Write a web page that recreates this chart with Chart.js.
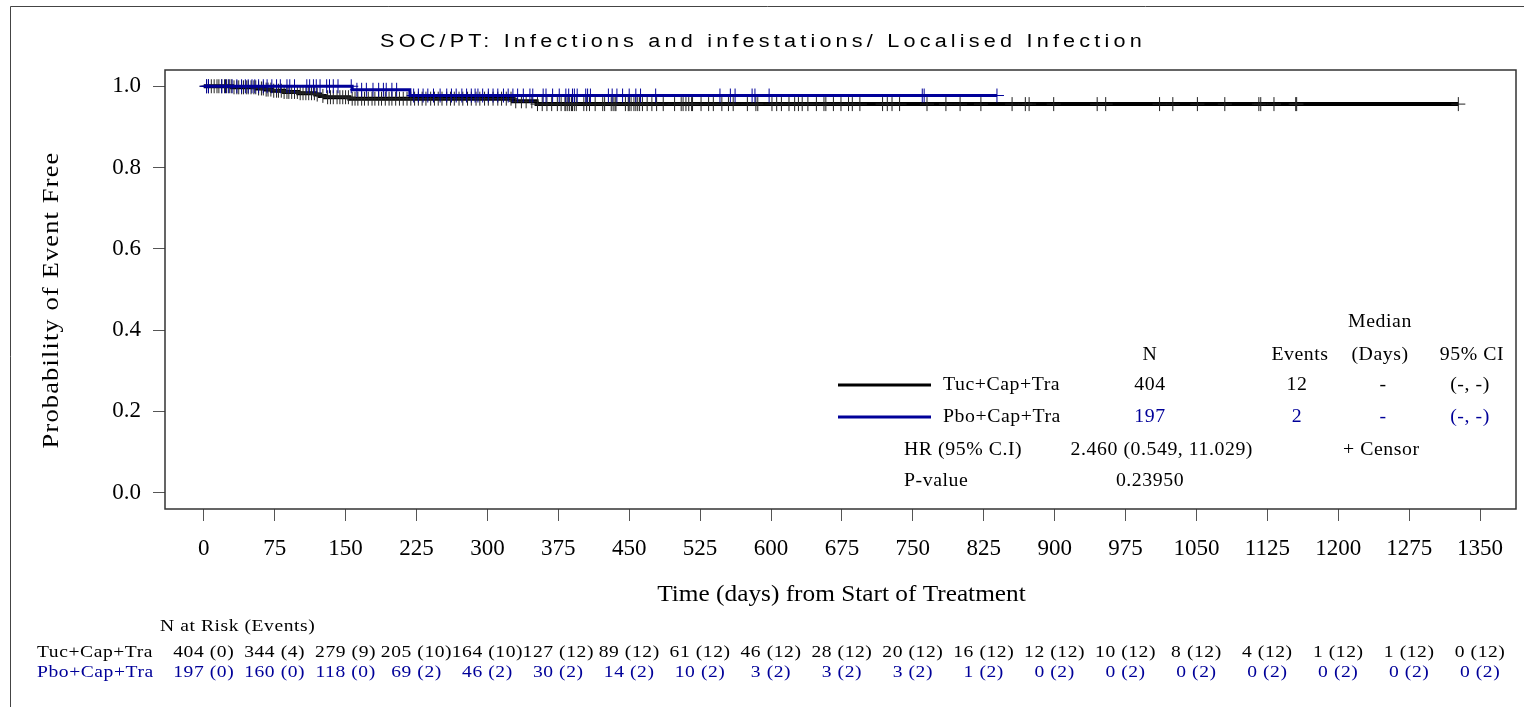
<!DOCTYPE html>
<html>
<head>
<meta charset="utf-8">
<script src="https://cdn.jsdelivr.net/npm/chart.js@4.4.0/dist/chart.umd.min.js"></script>
<style>
html, body { margin: 0; padding: 0; background: #fff; }
canvas { display: block; }
</style>
</head>
<body>
<canvas id="km" width="1524" height="707"></canvas>
<script>
// axis ticks
const xTicks = [0, 75, 150, 225, 300, 375, 450, 525, 600, 675, 750, 825, 900, 975, 1050, 1125, 1200, 1275, 1350];
const yTicks = [0, 0.2, 0.4, 0.6, 0.8, 1.0];

// Kaplan-Meier steps
const tucTimes = [0, 30, 56, 65, 72, 85, 100, 118, 123, 128, 154, 327, 352, 1327];
const tucSurv = [1, 0.9974, 0.9946, 0.9918, 0.989, 0.986, 0.9829, 0.9796, 0.9763, 0.973, 0.9695, 0.963, 0.9561, 0.9561];
const pboTimes = [0, 157, 218, 839];
const pboSurv = [1, 0.9913, 0.9772, 0.9772];

// censor marks (days)
const tucCensor = [3, 5, 8, 11, 14, 16, 19, 22, 24, 27, 29, 32, 35, 37, 40, 42, 45, 47, 50, 53, 55, 58, 61, 63, 66, 68, 71, 74, 77,
  79, 82, 85, 88, 90, 93, 96, 99, 102, 105, 108, 111, 114, 117, 120, 126, 131, 134, 137, 141, 144, 147, 150, 153, 157, 160,
  163, 167, 170, 174, 178, 181, 185, 188, 192, 196, 199, 203, 207, 211, 215, 219, 223, 227, 231, 235, 240, 244, 248, 252,
  257, 261, 265, 270, 274, 279, 283, 288, 292, 297, 301, 306, 311, 315, 320, 325, 330, 336, 341, 347, 353, 358, 363, 368,
  374, 378, 382, 383, 385, 387, 389, 390, 392, 394, 402, 405, 408, 414, 422, 424, 431, 433, 435, 436, 446, 449, 450, 452,
  455, 457, 459, 461, 464, 469, 474, 479, 486, 498, 505, 507, 510, 513, 516, 517, 526, 534, 539, 548, 555, 560, 575, 584,
  586, 601, 606, 611, 619, 625, 629, 633, 639, 648, 656, 658, 666, 674, 682, 686, 694, 718, 723, 728, 736, 765, 785, 800,
  822, 855, 869, 873, 899, 945, 954, 1011, 1025, 1051, 1080, 1116, 1118, 1132, 1155, 1156, 1327];
const pboCensor = [3, 5, 19, 23, 26, 30, 35, 40, 44, 47, 51, 54, 58, 63, 67, 72, 77, 81, 88, 91, 96, 109, 112, 116, 119, 123,
  130, 133, 137, 142, 156, 162, 167, 172, 179, 185, 190, 193, 199, 204, 222, 227, 232, 237, 243, 250, 257, 262, 267, 273,
  278, 283, 287, 290, 295, 301, 306, 311, 317, 322, 327, 332, 338, 345, 348, 359, 362, 369, 376, 383, 386, 390, 392, 395,
  404, 406, 409, 428, 432, 437, 443, 450, 457, 462, 478, 546, 557, 562, 580, 583, 598, 760, 762, 839];

// legend table
const groups = ['Tuc+Cap+Tra', 'Pbo+Cap+Tra'];
const groupN = ['404', '197'];
const groupEvents = ['12', '2'];
const groupMedian = ['-', '-'];
const groupCI = ['(-, -)', '(-, -)'];
const hrText = '2.460 (0.549, 11.029)';
const pText = '0.23950';

// number at risk (events) at each x tick
const riskTuc = ['404 (0)', '344 (4)', '279 (9)', '205 (10)', '164 (10)', '127 (12)', '89 (12)', '61 (12)', '46 (12)', '28 (12)',
  '20 (12)', '16 (12)', '12 (12)', '10 (12)', '8 (12)', '4 (12)', '1 (12)', '1 (12)', '0 (12)'];
const riskPbo = ['197 (0)', '160 (0)', '118 (0)', '69 (2)', '46 (2)', '30 (2)', '14 (2)', '10 (2)', '3 (2)', '3 (2)',
  '3 (2)', '1 (2)', '0 (2)', '0 (2)', '0 (2)', '0 (2)', '0 (2)', '0 (2)', '0 (2)'];

const BLACK = '#000000';
const BLUE = '#000099';
const SERIF = "'Liberation Serif', 'Times New Roman', serif";
const SANS = "'Liberation Sans', Arial, sans-serif";

function survAt(times, surv, t) {
    let s = surv[0];
    for (let i = 0; i < times.length; i++) {
        if (times[i] <= t) s = surv[i];
    }
    return s;
}

function stepPoints(times, surv) {
    return times.map((t, i) => ({ x: t, y: surv[i] }));
}

function censorPoints(list, times, surv) {
    return list.map(t => ({ x: t, y: survAt(times, surv, t) }));
}

// SAS output sets its text a bit wider than the font, so widen each string
function wideText(ctx, text, x, y, sx, spacing, angle) {
    ctx.save();
    ctx.translate(x, y);
    if (angle) ctx.rotate(angle);
    ctx.scale(sx, 1);
    ctx.letterSpacing = (spacing || 0) + 'px';
    ctx.fillText(text, 0, 0);
    ctx.restore();
}

const tablePlugin = {
    id: 'kmTable',
    afterDraw(chart) {
        const ctx = chart.ctx;
        const area = chart.chartArea;
        const xs = chart.scales.x;
        ctx.save();

        // outer frame
        ctx.strokeStyle = '#444';
        ctx.lineWidth = 1;
        ctx.beginPath();
        ctx.moveTo(10.5, 707);
        ctx.lineTo(10.5, 6.5);
        ctx.lineTo(1524, 6.5);
        ctx.stroke();

        // plot box
        ctx.strokeStyle = '#333';
        ctx.lineWidth = 1.5;
        ctx.strokeRect(area.left, area.top, area.right - area.left, area.bottom - area.top);

        // title
        ctx.fillStyle = '#000';
        ctx.textBaseline = 'middle';
        ctx.textAlign = 'center';
        ctx.font = '18px ' + SANS;
        wideText(ctx, 'SOC/PT: Infections and infestations/ Localised Infection', 763, 42, 1.2, 3.5);

        // axis titles
        ctx.font = '23px ' + SERIF;
        wideText(ctx, 'Time (days) from Start of Treatment', (area.left + area.right) / 2 + 1, 595, 1.1, 0);
        wideText(ctx, 'Probability of Event Free', 52, 300, 1.15, 1, -Math.PI / 2);

        // legend block
        ctx.font = '18px ' + SERIF;
        const sx = 1.1, sp = 0.5;
        wideText(ctx, 'Median', 1380, 322, sx, sp);
        wideText(ctx, 'N', 1150, 355, sx, sp);
        wideText(ctx, 'Events', 1300, 355, sx, sp);
        wideText(ctx, '(Days)', 1380, 355, sx, sp);
        wideText(ctx, '95% CI', 1472, 355, sx, sp);

        const rowY = [385, 417];
        const colors = [BLACK, BLUE];
        groups.forEach((g, i) => {
            ctx.strokeStyle = colors[i];
            ctx.lineWidth = 3;
            ctx.beginPath();
            ctx.moveTo(838, rowY[i]);
            ctx.lineTo(931, rowY[i]);
            ctx.stroke();
            ctx.fillStyle = '#000';
            ctx.textAlign = 'left';
            wideText(ctx, g, 943, rowY[i], sx, sp);
            ctx.fillStyle = colors[i];
            ctx.textAlign = 'center';
            wideText(ctx, groupN[i], 1150, rowY[i], sx, sp);
            wideText(ctx, groupEvents[i], 1297, rowY[i], sx, sp);
            wideText(ctx, groupMedian[i], 1383, rowY[i], sx, sp);
            wideText(ctx, groupCI[i], 1470, rowY[i], sx, sp);
        });

        ctx.fillStyle = '#000';
        ctx.textAlign = 'left';
        wideText(ctx, 'HR (95% C.I)', 904, 450, sx, sp);
        ctx.textAlign = 'right';
        wideText(ctx, hrText, 1253, 450, sx, sp);
        ctx.textAlign = 'left';
        wideText(ctx, '+ Censor', 1343, 450, sx, sp);
        wideText(ctx, 'P-value', 904, 481, sx, sp);
        ctx.textAlign = 'center';
        wideText(ctx, pText, 1150, 481, sx, sp);

        // number at risk table
        ctx.font = '17px ' + SERIF;
        const rx = 1.15, rs = 0.5;
        ctx.textAlign = 'left';
        wideText(ctx, 'N at Risk (Events)', 160, 627, rx, rs);
        wideText(ctx, groups[0], 37, 653, rx, rs);
        ctx.fillStyle = BLUE;
        wideText(ctx, groups[1], 37, 673, rx, rs);
        ctx.textAlign = 'center';
        xTicks.forEach((t, i) => {
            const px = xs.getPixelForValue(t);
            ctx.fillStyle = BLACK;
            wideText(ctx, riskTuc[i], px, 653, rx, rs);
            ctx.fillStyle = BLUE;
            wideText(ctx, riskPbo[i], px, 673, rx, rs);
        });
        ctx.restore();
    }
};

new Chart(document.getElementById('km'), {
    type: 'line',
    data: {
        datasets: [
            {
                label: groups[1] + ' censor',
                data: censorPoints(pboCensor, pboTimes, pboSurv),
                showLine: false,
                pointStyle: 'cross',
                pointRadius: 7,
                borderColor: BLUE,
                borderWidth: 1,
                order: 1
            },
            {
                label: groups[1],
                data: stepPoints(pboTimes, pboSurv),
                stepped: true,
                borderColor: BLUE,
                borderWidth: 3,
                pointRadius: 0,
                fill: false,
                order: 2
            },
            {
                label: groups[0] + ' censor',
                data: censorPoints(tucCensor, tucTimes, tucSurv),
                showLine: false,
                pointStyle: 'cross',
                pointRadius: 7,
                borderColor: '#222',
                borderWidth: 1,
                order: 3
            },
            {
                label: groups[0],
                data: stepPoints(tucTimes, tucSurv),
                stepped: true,
                borderColor: BLACK,
                borderWidth: 4,
                pointRadius: 0,
                fill: false,
                order: 4
            }
        ]
    },
    options: {
        responsive: false,
        animation: false,
        layout: { padding: { left: 10, top: 70, right: 6, bottom: 100 } },
        plugins: {
            legend: { display: false },
            tooltip: { enabled: false },
            title: { display: false }
        },
        scales: {
            x: {
                type: 'linear',
                min: -41,
                max: 1388,
                afterBuildTicks: s => { s.ticks = xTicks.map(v => ({ value: v })); },
                afterFit: s => { s.height = 98; },
                ticks: {
                    autoSkip: false,
                    maxRotation: 0,
                    padding: 14,
                    color: '#000',
                    font: { family: SERIF, size: 23 },
                    callback: v => String(v)
                },
                grid: { drawOnChartArea: false, drawTicks: true, tickLength: 12, color: '#555' },
                border: { display: false },
                title: { display: false }
            },
            y: {
                type: 'linear',
                min: -0.04,
                max: 1.04,
                afterBuildTicks: s => { s.ticks = yTicks.map(v => ({ value: v })); },
                afterFit: s => { s.width = 155; },
                ticks: {
                    padding: 12,
                    color: '#000',
                    font: { family: SERIF, size: 23 },
                    callback: v => v.toFixed(1)
                },
                grid: { drawOnChartArea: false, drawTicks: true, tickLength: 12, color: '#555' },
                border: { display: false },
                title: { display: false }
            }
        }
    },
    plugins: [tablePlugin]
});
</script>
</body>
</html>
